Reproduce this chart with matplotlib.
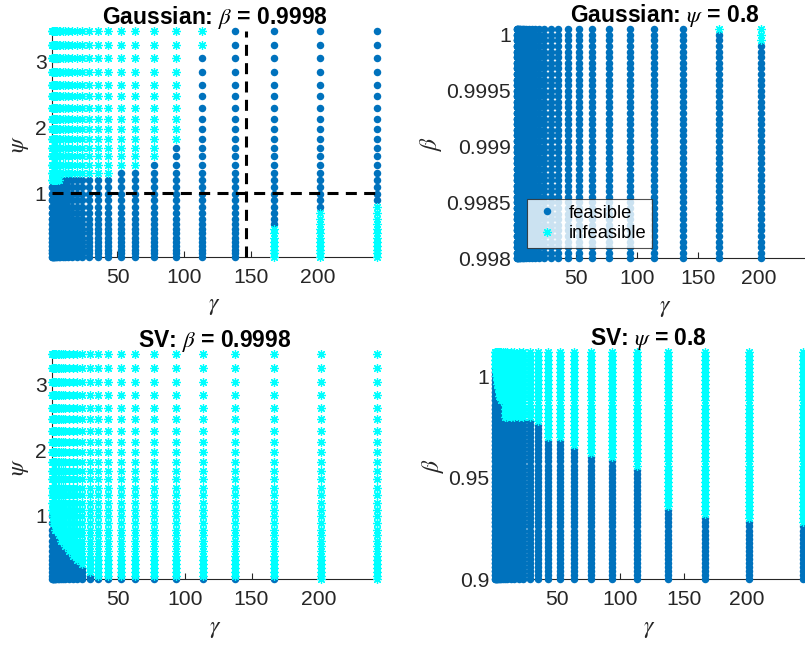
import numpy as np
import matplotlib
matplotlib.use('Agg')
import matplotlib.pyplot as plt
from matplotlib.lines import Line2D

plt.rcParams['font.family'] = ['Liberation Sans', 'DejaVu Sans']
plt.rcParams['mathtext.fontset'] = 'stix'

# gamma grid (columns)
gamma = [1.05, 1.28, 1.55, 1.9, 2.3, 2.8, 3.4, 4.1, 5.0, 6.1,
         7.4, 9.0, 10.9, 13.3, 16.2, 19.6, 23.5, 29, 35.2, 43,
         52.4, 63.2, 77, 93.7, 113.4, 137.7, 167, 201.7, 244]

# psi grid (rows, left panels)
psi = [0.03, 0.085, 0.14, 0.20, 0.26, 0.325, 0.39, 0.46, 0.535, 0.615,
       0.70, 0.79, 0.89, 0.99, 1.09, 1.2, 1.31, 1.43, 1.56, 1.68,
       1.82, 1.97, 2.13, 2.29, 2.47, 2.65, 2.84, 3.05, 3.25, 3.47]

# beta grid, Gaussian panel
beta_g = [0.99800, 0.99805, 0.99810, 0.99815, 0.99820, 0.99825, 0.99830, 0.99835, 0.99840, 0.99845,
          0.99850, 0.99855, 0.99860, 0.99865, 0.99870, 0.99875, 0.99880, 0.99885, 0.99890, 0.99895,
          0.99900, 0.99905, 0.99910, 0.99915, 0.99920, 0.99925, 0.99930, 0.99935, 0.99940, 0.99945,
          0.99950, 0.99955, 0.99960, 0.99965, 0.99970, 0.99975, 0.99980, 0.99985, 0.99990, 0.99995,
          1.00000, 1.00005]

# beta grid, SV panel
beta_sv = [0.900, 0.902, 0.904, 0.906, 0.908, 0.910, 0.912, 0.914, 0.916, 0.918,
           0.920, 0.922, 0.924, 0.926, 0.928, 0.930, 0.932, 0.934, 0.936, 0.938,
           0.940, 0.942, 0.944, 0.946, 0.948, 0.950, 0.952, 0.954, 0.956, 0.958,
           0.960, 0.962, 0.964, 0.966, 0.968, 0.970, 0.972, 0.974, 0.976, 0.978,
           0.980, 0.982, 0.984, 0.986, 0.988, 0.990, 0.992, 0.994, 0.996, 0.998,
           1.000, 1.002, 1.004, 1.006, 1.008, 1.010, 1.012]

# feasible band per gamma column
gauss_psi_hi = [1.09] * 10 + [1.2] * 10 + [1.31, 1.31, 1.43, 1.68, 3.05,
                                           3.47, 3.47, 3.47, 3.47]
gauss_psi_lo = [0.03] * 26 + [0.535, 0.79, 0.89]

sv_psi_hi = [0.99, 0.89, 0.89, 0.79, 0.79, 0.79, 0.70, 0.70, 0.70, 0.615,
             0.535, 0.535, 0.46, 0.39, 0.325, 0.26, 0.20, 0.085, 0.03, 0.03,
             0.03, 0.03, 0.03, 0.03, 0.03, 0.03, 0.03, 0.0, 0.0]

gauss_beta_hi = [1.00005] * 26 + [1.00000, 0.99990, 1.00005]

sv_beta_hi = [1.004, 1.002, 1.000, 0.998, 0.996, 0.994, 0.992, 0.988, 0.988, 0.986,
              0.986, 0.978, 0.978, 0.978, 0.978, 0.978, 0.978, 0.978, 0.976, 0.968,
              0.968, 0.964, 0.960, 0.958, 0.954, 0.934, 0.930, 0.928, 0.926]

BLUE = '#0072BD'
CYAN = '#00FFFF'
TXT = '#262626'
ASTER = (8, 2, 0)
TICK_FS = 15.2
TITLE_FS = 16.5
LABEL_FS = 17


def panel(ax, ys, hi, lo=None):
    G, Y = np.meshgrid(np.array(gamma), np.array(ys))
    H = np.broadcast_to(np.array(hi), G.shape)
    ok = Y <= H
    if lo is not None:
        ok &= Y >= np.broadcast_to(np.array(lo), G.shape)
    ax.plot(G[ok], Y[ok], linestyle='none', marker='o', ms=5.4,
            mfc=BLUE, mec=BLUE, mew=0, clip_on=False, zorder=2)
    ax.plot(G[~ok], Y[~ok], linestyle='none', marker=ASTER, ms=6.2,
            mec=CYAN, mew=0.9, clip_on=False, zorder=2)
    ax.set_xlim(gamma[0], gamma[-1])
    ax.set_ylim(ys[0], ys[-1])
    ax.set_xticks([50, 100, 150, 200])
    for s in ['top', 'right']:
        ax.spines[s].set_visible(False)
    for s in ['left', 'bottom']:
        ax.spines[s].set_color(TXT)
        ax.spines[s].set_linewidth(0.8)
        ax.spines[s].set_zorder(1)
    ax.tick_params(direction='in', length=4, width=0.8, colors=TXT,
                   labelsize=TICK_FS)
    ax.tick_params(axis='x', pad=8)
    ax.tick_params(axis='y', pad=4)
    ax.set_xlabel(r'$\gamma$', fontsize=LABEL_FS, color=TXT, labelpad=6)


W, H = 805, 645
fig = plt.figure(figsize=(W / 100, H / 100), dpi=100)


def box(l, t, r, b):
    return [l / W, (H - b) / H, (r - l) / W, (b - t) / H]


ax1 = fig.add_axes(box(52, 30.7, 377, 257))
ax2 = fig.add_axes(box(516.7, 29.3, 812.7, 258.3))
ax3 = fig.add_axes(box(52.3, 354, 377.3, 579.3))
ax4 = fig.add_axes(box(495, 351.7, 802.8, 579.3))

panel(ax1, psi, gauss_psi_hi, gauss_psi_lo)
ax1.set_yticks([1, 2, 3])
ax1.set_ylabel(r'$\psi$', fontsize=LABEL_FS, color=TXT, labelpad=3)
ax1.set_title(r'Gaussian: $\beta$ = 0.9998', fontsize=TITLE_FS,
              fontweight='bold', pad=5)
dash = dict(color='black', lw=2.2, dashes=(3.6, 2.4), zorder=4, clip_on=False)
ax1.axhline(1.0, **dash)
ax1.axvline(146, **dash)

panel(ax2, beta_g, gauss_beta_hi)
ax2.set_yticks([0.998, 0.9985, 0.999, 0.9995, 1.0])
ax2.set_yticklabels(['0.998', '0.9985', '0.999', '0.9995', '1'])
ax2.set_ylabel(r'$\beta$', fontsize=LABEL_FS, color=TXT, labelpad=2)
ax2.set_title(r'Gaussian: $\psi$ = 0.8', fontsize=TITLE_FS,
              fontweight='bold', pad=4)

panel(ax3, psi, sv_psi_hi)
ax3.set_yticks([1, 2, 3])
ax3.set_ylabel(r'$\psi$', fontsize=LABEL_FS, color=TXT, labelpad=3)
ax3.set_title(r'SV: $\beta$ = 0.9998', fontsize=TITLE_FS,
              fontweight='bold', pad=5)

panel(ax4, beta_sv, sv_beta_hi)
ax4.set_yticks([0.9, 0.95, 1.0])
ax4.set_yticklabels(['0.9', '0.95', '1'])
ax4.set_ylabel(r'$\beta$', fontsize=LABEL_FS, color=TXT, labelpad=2)
ax4.set_title(r'SV: $\psi$ = 0.8', fontsize=TITLE_FS,
              fontweight='bold', pad=4)

handles = [Line2D([], [], linestyle='none', marker='o', ms=5.4, mfc=BLUE,
                  mec=BLUE, mew=0, label='feasible'),
           Line2D([], [], linestyle='none', marker=ASTER, ms=6.2, mec=CYAN,
                  mew=0.9, label='infeasible')]
leg = ax2.legend(handles=handles, loc='lower left',
                 bbox_to_anchor=(527 / W, (H - 248) / H),
                 bbox_transform=fig.transFigure, fontsize=13.2,
                 frameon=True, fancybox=False, edgecolor=TXT,
                 borderpad=0.3, handletextpad=0.4, handlelength=1.6,
                 labelspacing=0.2, borderaxespad=0)
leg.get_frame().set_linewidth(0.8)
leg.set_zorder(10)

fig.savefig('out.png', dpi=100)
